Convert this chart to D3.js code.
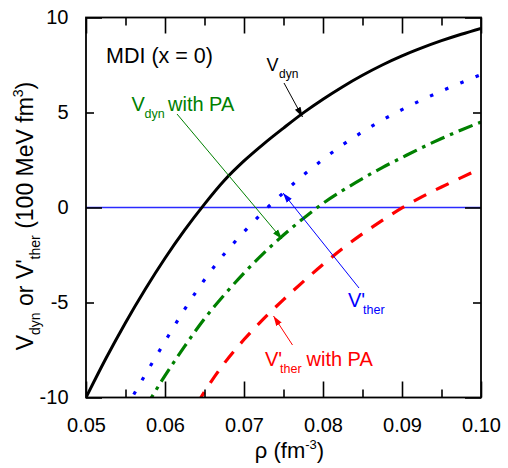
<!DOCTYPE html>
<html><head><meta charset="utf-8">
<script src="https://cdn.jsdelivr.net/npm/d3@7"></script>
<style>body{margin:0;background:#fff} svg{display:block} text{font-family:"Liberation Sans", Arial, sans-serif}</style>
</head><body><svg id="c" width="508" height="468"></svg>
<script>
// density grid (fm^-3)
const rho = [0.05,0.0525,0.055,0.0575,0.06,0.0625,0.065,0.0675,0.07,0.0725,0.075,0.0775,0.08,0.0825,0.085,0.0875,0.09,0.0925,0.095,0.0975,0.1];
// V_dyn (solid black)
const vDyn = [-10,-7.96,-6.06,-4.3,-2.67,-1.18,0.18,1.42,2.45,3.35,4.18,4.98,5.7,6.36,6.96,7.5,7.98,8.4,8.78,9.12,9.43];
// V'_ther (blue dotted)
const vTher = [null,null,-10.6,-8.8,-7.05,-5.35,-3.8,-2.45,-1.28,-0.2,0.78,1.7,2.53,3.3,3.98,4.6,5.15,5.66,6.13,6.57,7.0];
// V_dyn with PA (green dash-dot)
const vDynPA = [null,null,null,-10.55,-8.85,-7.3,-5.85,-4.6,-3.45,-2.4,-1.45,-0.58,0.22,0.9,1.52,2.1,2.63,3.15,3.63,4.08,4.5];
// V'_ther with PA (red dashed)
const vTherPA = [null,null,null,null,null,-11.5,-9.7,-8.2,-6.95,-5.85,-4.85,-3.9,-3.0,-2.15,-1.38,-0.68,-0.02,0.56,1.08,1.57,2.06];

const xMajor = [0.05,0.06,0.07,0.08,0.09,0.10];
const xMinor = [0.055,0.065,0.075,0.085,0.095];
const xTickLabels = ["0.05","0.06","0.07","0.08","0.09","0.10"];
const yMajor = [-10,0,10];
const yMinor = [-5,5];
const yLabelTicks = [-10,-5,0,5,10];
const yTickLabels = ["-10","-5","0","5","10"];

const svg = d3.select("#c");
const L=86,R=481,T=17.5,B=397.5;
const x = d3.scaleLinear().domain([0.05,0.1]).range([L,R]);
const y = d3.scaleLinear().domain([-10,10]).range([B,T]);

svg.append("defs").append("clipPath").attr("id","clip")
  .append("rect").attr("x",L).attr("y",T).attr("width",R-L).attr("height",B-T);

// zero line
svg.append("line").attr("x1",x(0.05)).attr("x2",x(0.1)).attr("y1",y(0)).attr("y2",y(0))
  .attr("stroke","#2a2aff").attr("stroke-width",1.3);

const series = [
  {v:vDyn, color:"#000", dash:null, w:3},
  {v:vTher, color:"#0000ff", dash:"3.5 13", w:3.2},
  {v:vDynPA, color:"#008000", dash:"15 6 3.5 6", w:3.2},
  {v:vTherPA, color:"#ff0000", dash:"14 11", w:3.2}
];
const gl = svg.append("g").attr("clip-path","url(#clip)");
series.forEach(s=>{
  const line = d3.line().defined((d,i)=>s.v[i]!==null)
    .x((d,i)=>x(rho[i])).y((d,i)=>y(s.v[i])).curve(d3.curveMonotoneX);
  gl.append("path").attr("d",line(rho)).attr("fill","none").attr("stroke",s.color)
    .attr("stroke-width",s.w).attr("stroke-dasharray",s.dash);
});

// axes
function styleAxis(g){ g.select(".domain").remove(); g.selectAll("line").attr("stroke","#000").attr("stroke-width",1.6); }
svg.append("g").attr("transform",`translate(0,${B})`).call(d3.axisBottom(x).tickValues(xMajor).tickSizeInner(-16).tickSizeOuter(0).tickPadding(20).tickFormat((d,i)=>xTickLabels[i])).call(styleAxis);
svg.append("g").attr("transform",`translate(0,${B})`).call(d3.axisBottom(x).tickValues(xMinor).tickSize(-8).tickFormat("")).call(styleAxis);
svg.append("g").attr("transform",`translate(0,${T})`).call(d3.axisTop(x).tickValues(xMajor).tickSize(-16).tickFormat("")).call(styleAxis);
svg.append("g").attr("transform",`translate(0,${T})`).call(d3.axisTop(x).tickValues(xMinor).tickSize(-8).tickFormat("")).call(styleAxis);
svg.append("g").attr("transform",`translate(${L},0)`).call(d3.axisLeft(y).tickValues(yMajor).tickSize(-16).tickFormat("")).call(styleAxis);
svg.append("g").attr("transform",`translate(${L},0)`).call(d3.axisLeft(y).tickValues(yMinor).tickSize(-8).tickFormat("")).call(styleAxis);
svg.append("g").attr("transform",`translate(${L},0)`).call(d3.axisLeft(y).tickValues(yLabelTicks).tickSize(0).tickPadding(17.5).tickFormat((d,i)=>yTickLabels[i])).call(styleAxis);
svg.append("g").attr("transform",`translate(${R},0)`).call(d3.axisRight(y).tickValues(yMajor).tickSize(-16).tickFormat("")).call(styleAxis);
svg.append("g").attr("transform",`translate(${R},0)`).call(d3.axisRight(y).tickValues(yMinor).tickSize(-8).tickFormat("")).call(styleAxis);
svg.selectAll(".tick text").attr("font-family","Liberation Sans, Arial, sans-serif").attr("font-size",20).attr("fill","#000");

svg.append("rect").attr("x",L).attr("y",T).attr("width",R-L).attr("height",B-T)
  .attr("fill","none").attr("stroke","#000").attr("stroke-width",1.8);

// axis titles
const xl = svg.append("text").attr("x",289.5).attr("y",458).attr("text-anchor","middle").style("font-size","22px");
xl.append("tspan").text("ρ (fm");
xl.append("tspan").attr("dy",-9).style("font-size","13px").text("-3");
xl.append("tspan").attr("dy",9).text(")");

const yl = svg.append("text").attr("transform","translate(33,216) rotate(-90)").attr("text-anchor","middle").style("font-size","23px");
yl.append("tspan").text("V");
yl.append("tspan").attr("dy",7).style("font-size","14px").text("dyn");
yl.append("tspan").attr("dy",-7).text(" or V'");
yl.append("tspan").attr("dy",7).style("font-size","14px").text("ther");
yl.append("tspan").attr("dy",-7).text(" (100 MeV fm");
yl.append("tspan").attr("dy",-10).style("font-size","14px").text("3");
yl.append("tspan").attr("dy",10).text(")");

// annotations
svg.append("text").attr("x",106).attr("y",62.5).style("font-size","21.5px").text("MDI (x = 0)");

const defs = svg.select("defs");
function marker(id,color){
  defs.append("marker").attr("id",id).attr("viewBox","0 -4 10 8").attr("refX",10).attr("refY",0)
    .attr("markerUnits","userSpaceOnUse").attr("markerWidth",10).attr("markerHeight",8).attr("orient","auto")
    .append("path").attr("d","M0,-3.2L10,0L0,3.2Z").attr("fill",color);
}
marker("mk","#000"); marker("mg","#008000"); marker("mb","#0000ff"); marker("mr","#ff0000");
function arrow(x1,y1,x2,y2,color,id){
  svg.append("line").attr("x1",x1).attr("y1",y1).attr("x2",x2).attr("y2",y2)
    .attr("stroke",color).attr("stroke-width",1).attr("marker-end",`url(#${id})`);
}
function label(xp,yp,main,sub,rest,color,size){
  svg.append("text").attr("x",xp).attr("y",yp).attr("fill",color).style("font-size",size+"px").text(main);
}
// V_dyn
svg.append("text").attr("x",266.5).attr("y",70.5).style("font-size","18px").text("V");
svg.append("text").attr("x",279).attr("y",77.5).style("font-size","12px").text("dyn");
arrow(284,83,302.5,117,"#000","mk");
// V_dyn with PA
svg.append("text").attr("x",131.5).attr("y",111).attr("fill","#008000").style("font-size","20px").text("V");
svg.append("text").attr("x",144.5).attr("y",117.5).attr("fill","#008000").style("font-size","12.5px").text("dyn");
svg.append("text").attr("x",168).attr("y",111).attr("fill","#008000").style("font-size","20px").text("with PA");
arrow(177,114,282,239,"#008000","mg");
// V'_ther
svg.append("text").attr("x",348).attr("y",307).attr("fill","#0000ff").style("font-size","20px").text("V'");
svg.append("text").attr("x",363).attr("y",314).attr("fill","#0000ff").style("font-size","12.5px").text("ther");
arrow(359,288,283,193,"#0000ff","mb");
// V'_ther with PA
svg.append("text").attr("x",265).attr("y",366).attr("fill","#ff0000").style("font-size","20px").text("V'");
svg.append("text").attr("x",280).attr("y",373).attr("fill","#ff0000").style("font-size","12.5px").text("ther");
svg.append("text").attr("x",306.5).attr("y",366).attr("fill","#ff0000").style("font-size","20px").text("with PA");
arrow(292.5,345,273.5,316,"#ff0000","mr");
</script></body></html>
